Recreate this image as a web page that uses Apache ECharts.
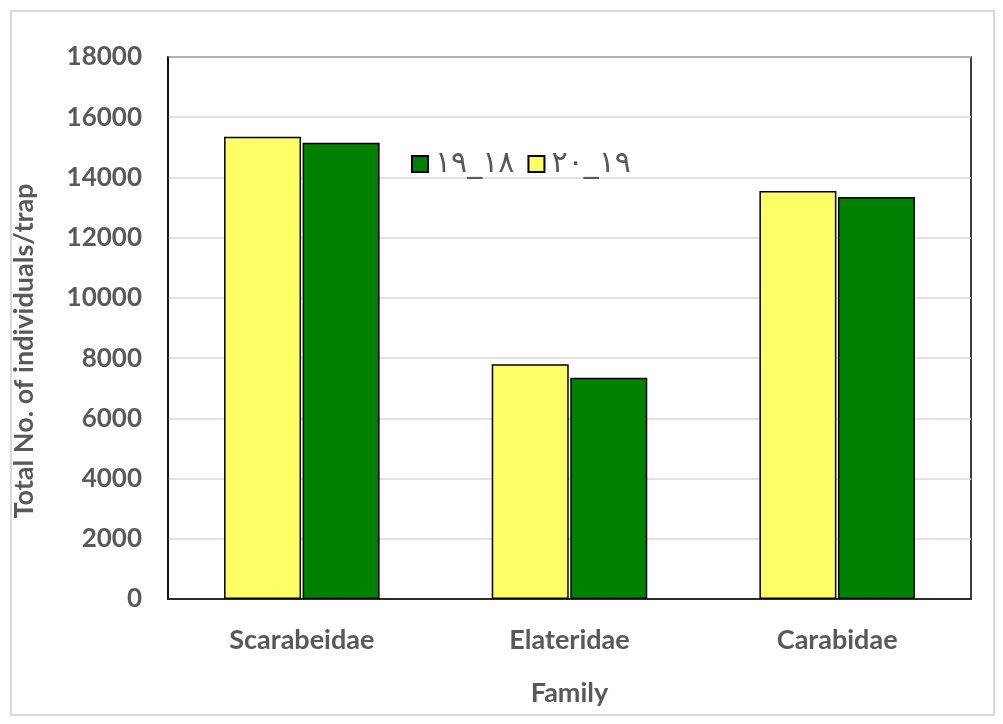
<!DOCTYPE html>
<html>
<head>
<meta charset="utf-8">
<script src="https://cdn.jsdelivr.net/npm/echarts@6/dist/echarts.min.js"></script>
<style>
  html, body { margin: 0; padding: 0; background: #fff; }
  #frame { position: absolute; left: 10px; top: 10px; width: 981px; height: 702px; border: 2px solid #d9d9d9; box-sizing: content-box; }
  #chart { position: absolute; left: 0; top: 0; width: 1003px; height: 724px; }
</style>
</head>
<body>
<div id="frame"></div>
<div id="chart"></div>
<script>
// Insect families caught per trap over two seasons
const families = ['Scarabeidae', 'Elateridae', 'Carabidae'];
const season1920 = [15350, 7800, 13550];   // ١٩_٢٠
const season1819 = [15150, 7350, 13350];   // ١٨_١٩
const yTicks = [0, 2000, 4000, 6000, 8000, 10000, 12000, 14000, 16000, 18000];

const textFont = 'Lato, "Open Sans", sans-serif';
const chart = echarts.init(document.getElementById('chart'));
chart.setOption({
  animation: false,
  backgroundColor: 'transparent',
  grid: {
    left: 168, right: 32, top: 57, bottom: 125,
    show: true, borderColor: '#000', borderWidth: 1.5,
    containLabel: false, outerBoundsMode: 'none'
  },
  legend: {
    left: 406, top: 144,
    itemWidth: 16, itemHeight: 16, itemGap: 13,
    icon: 'rect',
    data: ['١٨_١٩', '١٩_٢٠'],
    textStyle: { fontFamily: '"DejaVu Sans", sans-serif', fontSize: 30, color: '#595959', padding: [0, 0, 0, 2] }
  },
  xAxis: {
    type: 'category',
    data: families,
    name: 'Family',
    nameLocation: 'middle',
    nameGap: 81,
    nameTextStyle: { fontFamily: textFont, fontWeight: 'bold', fontSize: 27, color: '#595959' },
    axisLine: { lineStyle: { color: '#000', width: 1.5 } },
    axisTick: { show: false },
    axisLabel: { margin: 28, fontFamily: textFont, fontWeight: 'bold', fontSize: 27, color: '#595959' }
  },
  yAxis: {
    type: 'value',
    min: yTicks[0], max: yTicks[yTicks.length - 1], interval: 2000,
    name: 'Total No. of individuals/trap',
    nameLocation: 'middle',
    nameGap: 130,
    nameTextStyle: { fontFamily: textFont, fontWeight: 'bold', fontSize: 27, color: '#595959', padding: [0, 46, 0, 0] },
    axisLine: { show: true, lineStyle: { color: '#000', width: 1.5 } },
    axisTick: { show: false },
    splitLine: { lineStyle: { color: '#d9d9d9', width: 1.5 } },
    axisLabel: { margin: 26, fontFamily: textFont, fontWeight: 'bold', fontSize: 26, color: '#595959', formatter: v => String(v) }
  },
  series: [
    {
      name: '١٩_٢٠', type: 'bar', data: season1920,
      barWidth: 77, barGap: '2%',
      itemStyle: { color: '#ffff66', borderColor: '#000', borderWidth: 1.5 }
    },
    {
      name: '١٨_١٩', type: 'bar', data: season1819,
      barWidth: 77, barGap: '2%',
      itemStyle: { color: '#008000', borderColor: '#000', borderWidth: 1.5 }
    }
  ]
});
</script>
</body>
</html>
